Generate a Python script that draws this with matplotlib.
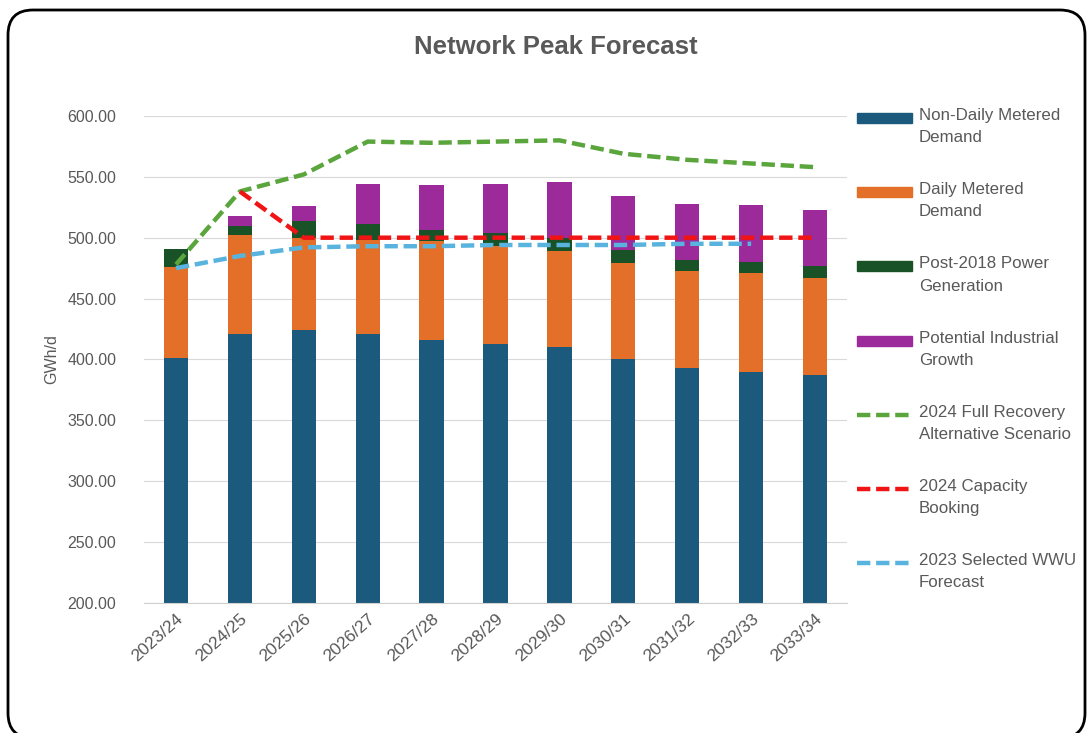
import numpy as np
import matplotlib
matplotlib.use("Agg")
import matplotlib.pyplot as plt
from matplotlib.patches import FancyBboxPatch, Rectangle
from matplotlib.lines import Line2D

plt.rcParams['font.family'] = ['Liberation Sans', 'DejaVu Sans']

years = ['2023/24', '2024/25', '2025/26', '2026/27', '2027/28', '2028/29',
         '2029/30', '2030/31', '2031/32', '2032/33', '2033/34']

non_daily = [401, 421, 424, 421, 416, 413, 410, 400, 393, 390, 387]
daily = [75, 81, 76, 77, 81, 80, 79, 79, 80, 81, 80]
power_gen = [15, 8, 14, 13, 9, 11, 11, 11, 9, 9, 10]
industrial = [0, 8, 12, 33, 37, 40, 46, 44, 46, 47, 46]

full_recovery = [478, 538, 552, 579, 578, 579, 580, 569, 564, 561, 558]
capacity_booking = [np.nan, 538, 500, 500, 500, 500, 500, 500, 500, 500, 500]
wwu_forecast = [475, 485, 492, 493, 493, 494, 494, 494, 495, 495, np.nan]

c_ndm = '#1b5a7c'
c_dm = '#e46f28'
c_pg = '#1a5228'
c_ig = '#9c2a9a'
c_green = '#5aa53c'
c_red = '#f01414'
c_blue = '#58b4de'
grey_txt = '#595959'

fig = plt.figure(figsize=(10.88, 7.33), dpi=100)
ax = fig.add_axes([0.1324, 0.1778, 0.6461, 0.6639])

x = np.arange(len(years))
w = 0.38
b1 = np.array(non_daily)
b2 = b1 + np.array(daily)
b3 = b2 + np.array(power_gen)
ax.bar(x, non_daily, w, color=c_ndm, zorder=2)
ax.bar(x, daily, w, bottom=b1, color=c_dm, zorder=2)
ax.bar(x, power_gen, w, bottom=b2, color=c_pg, zorder=2)
ax.bar(x, industrial, w, bottom=b3, color=c_ig, zorder=2)

lw = 3.2
ax.plot(x, full_recovery, color=c_green, lw=lw, dashes=(3, 1.3), zorder=3)
ax.plot(x, capacity_booking, color=c_red, lw=lw, dashes=(3, 1.3), zorder=4)
ax.plot(x, wwu_forecast, color=c_blue, lw=lw, dashes=(3, 1.3), zorder=5)

ax.set_ylim(200, 600)
ax.set_xlim(-0.5, len(years) - 0.5)
ax.set_yticks(np.arange(200, 601, 50))
ax.set_yticklabels([f'{v:.2f}' for v in np.arange(200, 601, 50)])
ax.set_xticks(x)
ax.set_xticklabels(years, rotation=42, ha='right', rotation_mode='anchor')
ax.tick_params(length=0, labelsize=11.5, labelcolor=grey_txt)
ax.tick_params(axis='y', pad=20)
ax.tick_params(axis='x', pad=6, labelsize=12.5)
ax.grid(axis='y', color='#d9d9d9', lw=0.8, zorder=0)
for s in ['top', 'right', 'left']:
    ax.spines[s].set_visible(False)
ax.spines['bottom'].set_color('#d0d0d0')
ax.set_ylabel('GWh/d', color=grey_txt, fontsize=11.5, labelpad=6)

fig.text(0.511, 0.936, 'Network Peak Forecast', ha='center', va='center',
         fontsize=18.5, fontweight='bold', color=grey_txt)

# legend
labels = ['Non-Daily Metered\nDemand', 'Daily Metered\nDemand', 'Post-2018 Power\nGeneration',
          'Potential Industrial\nGrowth', '2024 Full Recovery\nAlternative Scenario',
          '2024 Capacity\nBooking', '2023 Selected WWU\nForecast']
styles = [('bar', c_ndm), ('bar', c_dm), ('bar', c_pg), ('bar', c_ig),
          ('line', c_green), ('line', c_red), ('line', c_blue)]
W, H = 1088, 733
for i, (lab, (kind, col)) in enumerate(zip(labels, styles)):
    yc = 118 + i * 74.2
    if kind == 'bar':
        fig.add_artist(Rectangle((857 / W, 1 - (yc + 5) / H), 55 / W, 10 / H,
                                 transform=fig.transFigure, color=col))
    else:
        fig.add_artist(Line2D([857 / W, 912 / W], [1 - yc / H, 1 - yc / H],
                              transform=fig.transFigure, color=col, lw=lw, dashes=(3, 1.3)))
    fig.text(919 / W, 1 - (yc - 10) / H, lab, ha='left', va='top', fontsize=12.2,
             color=grey_txt, linespacing=1.6)

border = FancyBboxPatch((0.08, -0.05), 10.77, 7.28, boxstyle='round,pad=0,rounding_size=0.25',
                        transform=fig.dpi_scale_trans, fill=False, ec='black', lw=2)
fig.add_artist(border)

fig.savefig('out.png', dpi=100, facecolor='white')
